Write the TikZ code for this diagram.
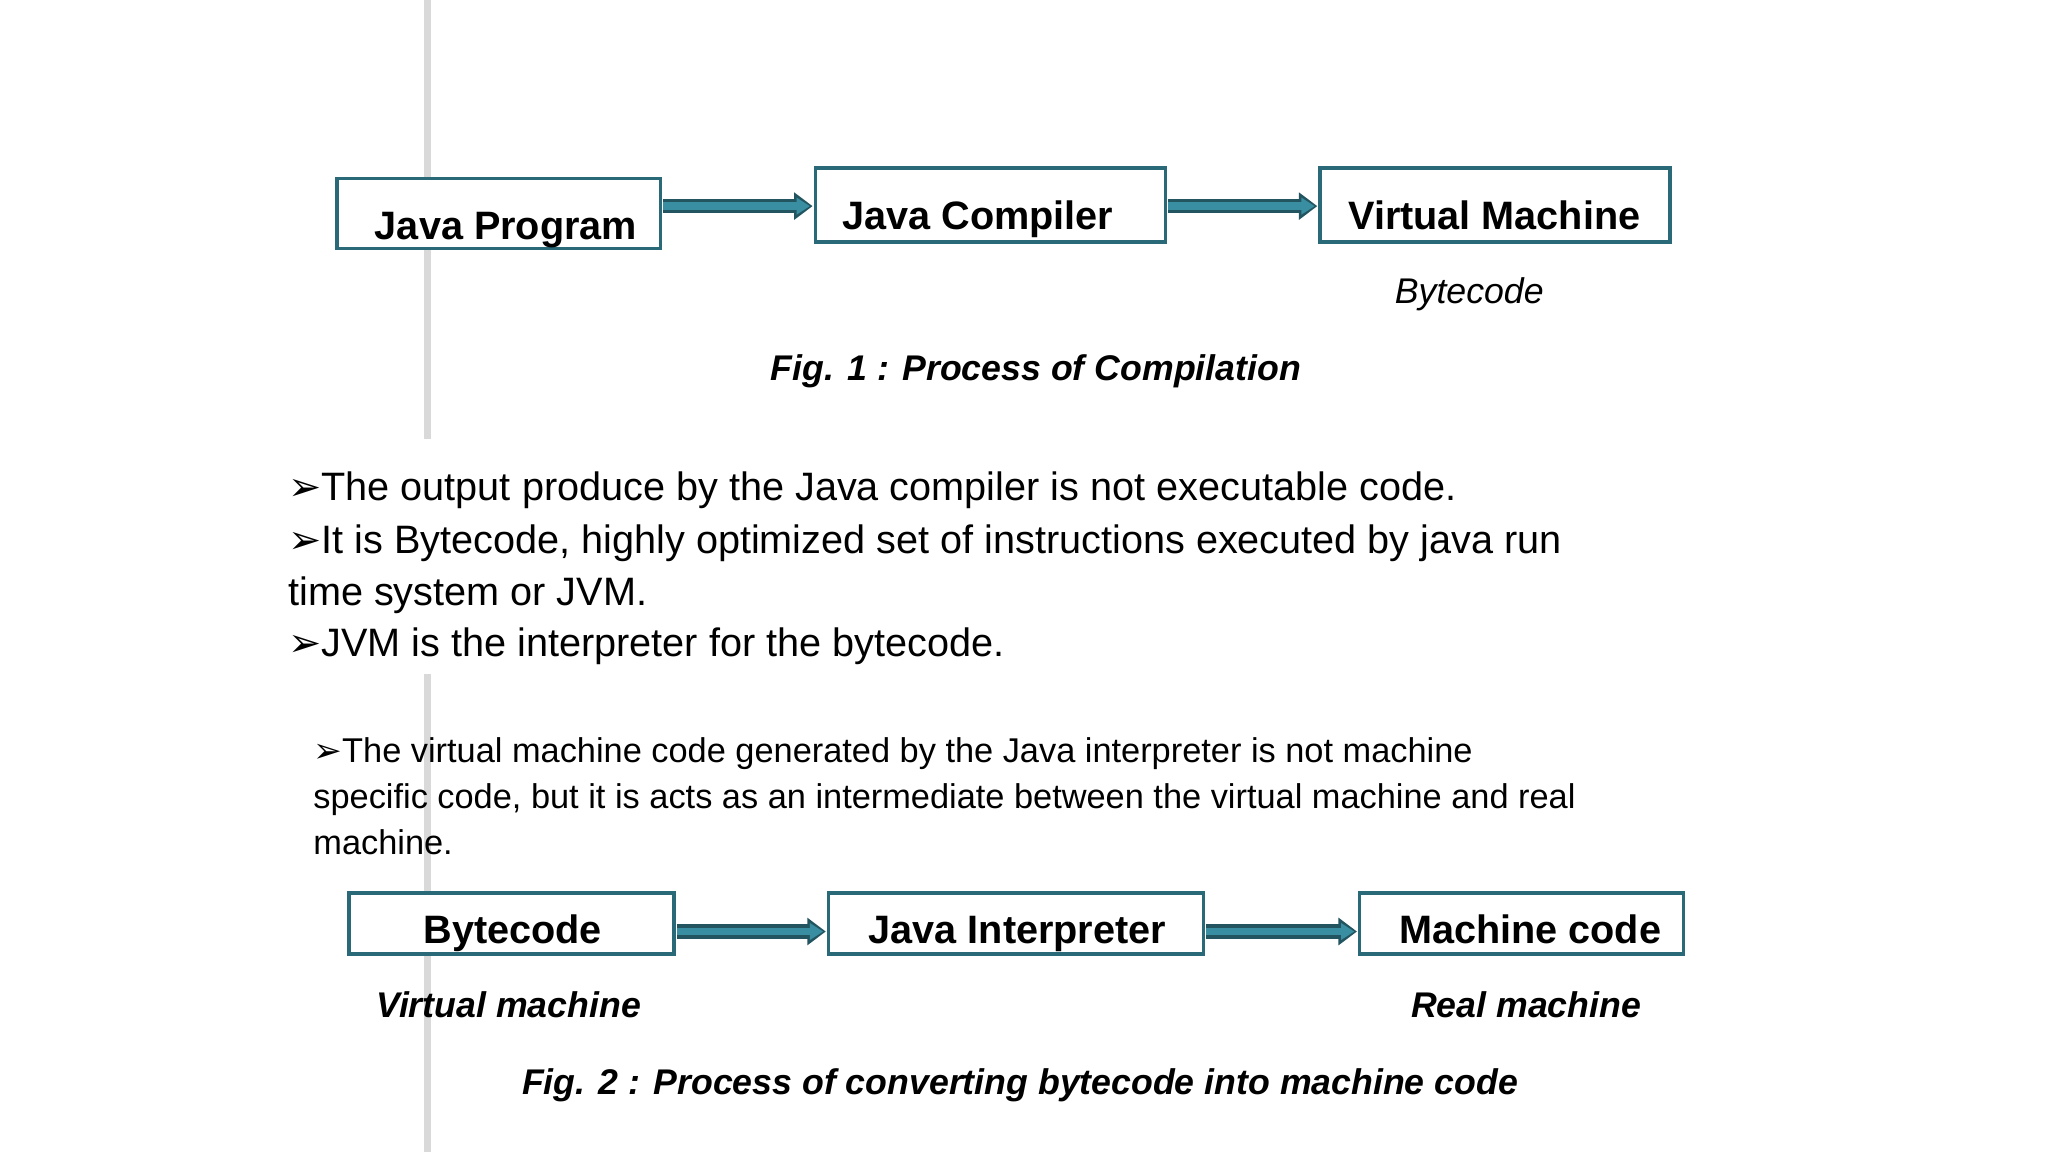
\documentclass[tikz,border=0pt]{standalone}
\usepackage{fontspec}
\setmainfont{Liberation Sans}
\newfontfamily\djvfont{DejaVu Sans}
\usetikzlibrary{arrows.meta}
\definecolor{boxc}{HTML}{2A6A78}
\definecolor{arrc}{HTML}{3A8EA2}
\tikzset{
  jbox/.style={draw=boxc,line width=2.6pt,fill=white,inner sep=0pt},
  jtxt/.style={font=\fontsize{30}{36}\selectfont\bfseries,anchor=base},
  jarr/.style={draw=boxc!80!black,line width=11pt,-{Triangle[length=14pt,width=20pt]},shorten >=0pt},
  jarrin/.style={draw=arrc,line width=6pt,-{Triangle[length=10pt,width=12pt]},shorten >=2pt},
  figcap/.style={font=\fontsize{27}{32}\selectfont\bfseries\itshape,anchor=base},
  subtxt/.style={font=\fontsize{27}{32}\selectfont\itshape,anchor=base},
  para/.style={anchor=base west,inner sep=0pt}
}
\begin{document}
\begin{tikzpicture}[x=1pt,y=-1pt]
\useasboundingbox[fill=white] (0,0) rectangle (1550,872);
\fill[gray!30] (321,0) rectangle (326,332);
\fill[gray!30] (321,510) rectangle (326,872);
% Fig 1
\coordinate (a1s) at (502,156); \coordinate (a1e) at (615,156);
\coordinate (a2s) at (884,156); \coordinate (a2e) at (997,156);
\draw[jarr] (a1s) -- (a1e);
\draw[jarrin] (a1s) -- (a1e);
\draw[jarr] (a2s) -- (a2e);
\draw[jarrin] (a2s) -- (a2e);
\draw[jbox] (255,135) rectangle (500,188);
\draw[jbox] (617,127) rectangle (882,183);
\draw[jbox] (999,127) rectangle (1264,183);
\node[jtxt] (t1) at (383,181) {Java Program};
\node[jtxt] (t2) at (740,174) {Java Compiler};
\node[jtxt] (t3) at (1131,174) {Virtual Machine};
\node[subtxt] (bc) at (1112,230) {Bytecode};
\node[figcap] (f1) at (784,288) {Fig. 1 : Process of Compilation};
% bullets
\begin{scope}[font=\fontsize{30}{39}\selectfont]
\node[para] (l1) at (218,379) {{\djvfont ➢}The output produce by the Java compiler is not executable code.};
\node[para] (l2) at (218,419) {{\djvfont ➢}It is Bytecode, highly optimized set of instructions executed by java run};
\node[para] (l3) at (218,458) {time system or JVM.};
\node[para] (l4) at (218,497) {{\djvfont ➢}JVM is the interpreter for the bytecode.};
\end{scope}
\begin{scope}[font=\fontsize{26}{35}\selectfont]
\node[para] (m1) at (237,577) {{\djvfont ➢}The virtual machine code generated by the Java interpreter is not machine};
\node[para] (m2) at (237,612) {specific code, but it is acts as an intermediate between the virtual machine and real};
\node[para] (m3) at (237,647) {machine.};
\end{scope}
% Fig 2
\coordinate (c1s) at (512,705); \coordinate (c1e) at (625,705);
\coordinate (c2s) at (913,705); \coordinate (c2e) at (1027,705);
\draw[jarr] (c1s) -- (c1e);
\draw[jarrin] (c1s) -- (c1e);
\draw[jarr] (c2s) -- (c2e);
\draw[jarrin] (c2s) -- (c2e);
\draw[jbox] (264,676) rectangle (510,722);
\draw[jbox] (627,676) rectangle (911,722);
\draw[jbox] (1029,676) rectangle (1274,722);
\node[jtxt] (u1) at (388,714) {Bytecode};
\node[jtxt] (u2) at (770,714) {Java Interpreter};
\node[jtxt] (u3) at (1158,714) {Machine code};
\node[figcap] (v1) at (385,770) {Virtual machine};
\node[figcap] (v2) at (1155,770) {Real machine};
\node[figcap] (f2) at (772,828) {Fig. 2 : Process of converting bytecode into machine code};
\end{tikzpicture}
\end{document}
